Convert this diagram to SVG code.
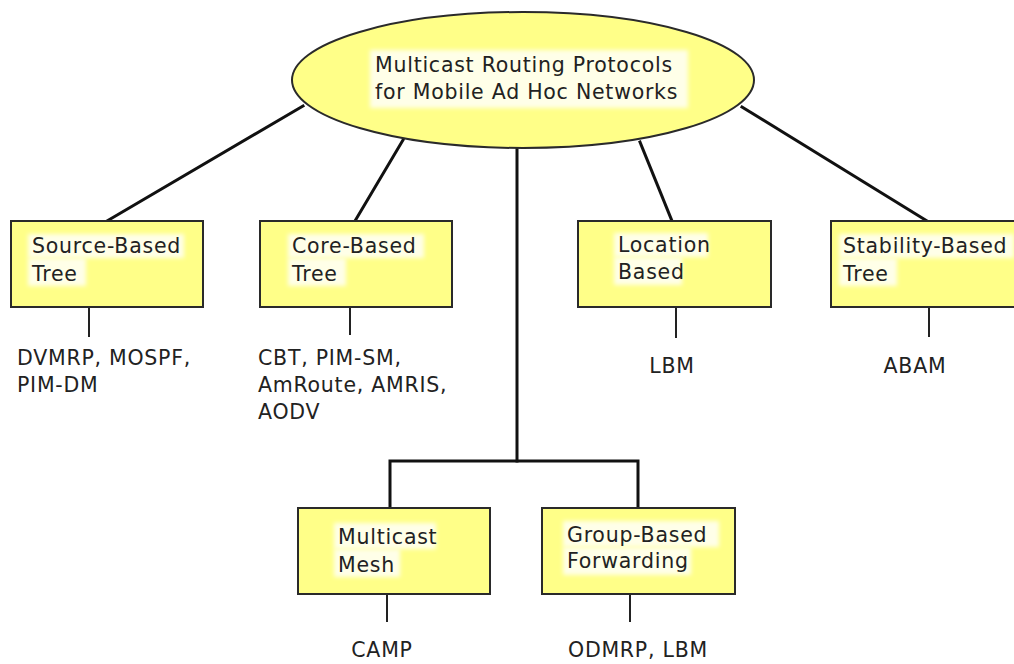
<svg xmlns="http://www.w3.org/2000/svg" width="1014" height="664" viewBox="0 0 1014 664">
  <style>
    .node { fill: #ffff88; stroke: #2a2a2a; stroke-width: 2; }
    .halo { fill: #ffffe8; }
    .lbl { font-family: "DejaVu Sans", "Liberation Sans", sans-serif; font-size: 20.5px; letter-spacing: 0.75px; fill: #222; }
    .edge { stroke: #111; stroke-width: 3; fill: none; stroke-linecap: square; }
    .stem { stroke: #222; stroke-width: 2; fill: none; }
  </style>
  <defs>
    <filter id="soft" x="-10%" y="-20%" width="120%" height="140%">
      <feGaussianBlur stdDeviation="2"/>
    </filter>
  </defs>
  <rect width="1014" height="664" fill="#ffffff"/>

  <!-- connectors -->
  <g id="connectors">
    <line class="edge" x1="303" y1="106" x2="107" y2="221"/>
    <line class="edge" x1="403" y1="140" x2="355" y2="221"/>
    <line class="edge" x1="640" y1="142" x2="672" y2="221"/>
    <line class="edge" x1="742" y1="107" x2="927" y2="221"/>
    <polyline class="edge" points="517,148 517,461"/>
    <polyline class="edge" points="390,508 390,461 638,461 638,508"/>
    <line class="stem" x1="89" y1="307" x2="89" y2="337"/>
    <line class="stem" x1="350" y1="307" x2="350" y2="335"/>
    <line class="stem" x1="676" y1="307" x2="676" y2="338"/>
    <line class="stem" x1="929" y1="307" x2="929" y2="337"/>
    <line class="stem" x1="387" y1="594" x2="387" y2="622"/>
    <line class="stem" x1="630" y1="594" x2="630" y2="622"/>
  </g>

  <!-- root -->
  <g id="root">
    <ellipse class="node" cx="523" cy="80" rx="231" ry="68"/>
    <rect class="halo" filter="url(#soft)" x="370" y="50" width="318" height="58"/>
    <text class="lbl" x="375" y="72">Multicast Routing Protocols</text>
    <text class="lbl" x="375" y="99">for Mobile Ad Hoc Networks</text>
  </g>

  <g id="source-based">
    <rect class="node" x="11" y="221" width="192" height="86"/>
    <rect class="halo" filter="url(#soft)" x="28" y="234" width="156" height="24"/>
    <rect class="halo" filter="url(#soft)" x="28" y="258" width="58" height="28"/>
    <text class="lbl" x="32" y="253">Source-Based</text>
    <text class="lbl" x="32" y="281">Tree</text>
    <text class="lbl" x="17" y="365">DVMRP, MOSPF,</text>
    <text class="lbl" x="17" y="392">PIM-DM</text>
  </g>

  <g id="core-based">
    <rect class="node" x="260" y="221" width="192" height="86"/>
    <rect class="halo" filter="url(#soft)" x="288" y="234" width="136" height="24"/>
    <rect class="halo" filter="url(#soft)" x="288" y="258" width="58" height="28"/>
    <text class="lbl" x="292" y="253">Core-Based</text>
    <text class="lbl" x="292" y="281">Tree</text>
    <text class="lbl" x="258" y="365">CBT, PIM-SM,</text>
    <text class="lbl" x="258" y="392">AmRoute, AMRIS,</text>
    <text class="lbl" x="258" y="419">AODV</text>
  </g>

  <g id="location-based">
    <rect class="node" x="578" y="221" width="193" height="86"/>
    <rect class="halo" filter="url(#soft)" x="614" y="233" width="94" height="24"/>
    <rect class="halo" filter="url(#soft)" x="614" y="257" width="68" height="28"/>
    <text class="lbl" x="618" y="252">Location</text>
    <text class="lbl" x="618" y="279">Based</text>
    <text class="lbl" x="672" y="373" text-anchor="middle">LBM</text>
  </g>

  <g id="stability-based">
    <rect class="node" x="831" y="221" width="200" height="86"/>
    <rect class="halo" filter="url(#soft)" x="839" y="234" width="175" height="24"/>
    <rect class="halo" filter="url(#soft)" x="839" y="258" width="58" height="28"/>
    <text class="lbl" x="843" y="253">Stability-Based</text>
    <text class="lbl" x="843" y="281">Tree</text>
    <text class="lbl" x="915" y="373" text-anchor="middle">ABAM</text>
  </g>

  <g id="multicast-mesh">
    <rect class="node" x="298" y="508" width="192" height="86"/>
    <rect class="halo" filter="url(#soft)" x="334" y="523" width="102" height="26"/>
    <rect class="halo" filter="url(#soft)" x="334" y="549" width="66" height="28"/>
    <text class="lbl" x="338" y="544">Multicast</text>
    <text class="lbl" x="338" y="572">Mesh</text>
    <text class="lbl" x="382" y="657" text-anchor="middle">CAMP</text>
  </g>

  <g id="group-based">
    <rect class="node" x="542" y="508" width="193" height="86"/>
    <rect class="halo" filter="url(#soft)" x="563" y="521" width="156" height="26"/>
    <rect class="halo" filter="url(#soft)" x="563" y="547" width="128" height="28"/>
    <text class="lbl" x="567" y="542">Group-Based</text>
    <text class="lbl" x="567" y="568">Forwarding</text>
    <text class="lbl" x="568" y="657">ODMRP, LBM</text>
  </g>
</svg>
